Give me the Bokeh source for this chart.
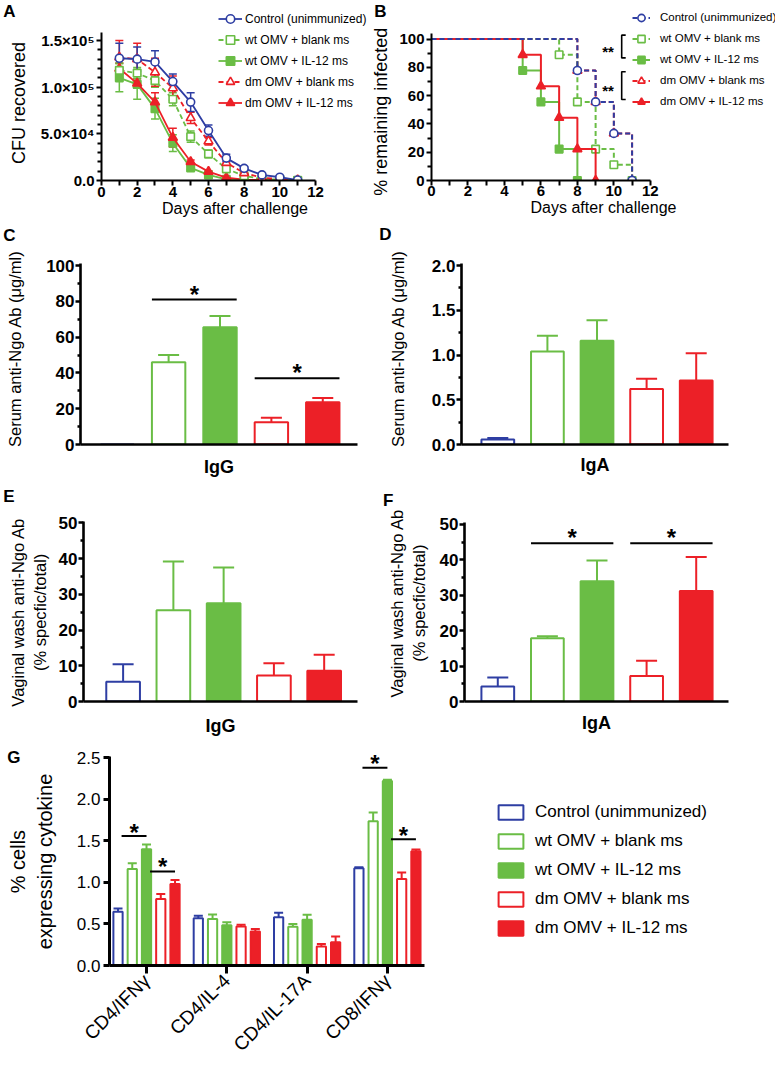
import math
from bokeh.plotting import figure
from bokeh.models import (Range1d, FixedTicker, Whisker, TeeHead, ColumnDataSource,
                          Legend, LegendItem, LinearAxis)
from bokeh.layouts import column, row
from bokeh.core.properties import value
from bokeh.embed import file_html
from bokeh.resources import INLINE

FONT = "Liberation Sans"
BLUE = "#2e3ea3"
GREEN = "#6abd45"
RED = "#ec2027"
NB = "\u00a0"

# ---------------- data ----------------
groups = ["Control (unimmunized)", "wt OMV + blank ms", "wt OMV + IL-12 ms",
          "dm OMV + blank ms", "dm OMV + IL-12 ms"]
group_colors = [BLUE, GREEN, GREEN, RED, RED]
group_filled = [False, False, True, False, True]
group_marker = ["circle", "square", "square", "triangle", "triangle"]
dash_A = ["solid", "5 3", "solid", "5 3", "solid"]
dash_B = ["5 3", "5 3", "solid", "5 3", "solid"]

# Panel A: CFU recovered (mean, SEM) by day
days = [1, 2, 3, 4, 5, 6, 7, 8, 9, 10, 11]
cfu_control = [131000, 130000, 127000, 106000, 84000, 53500, 24000, 13000, 6000, 3500, 500]
cfu_control_sem = [16000, 13000, 12000, 8000, 10000, 6000, 4000, 2000, 1500, 1000, 500]
cfu_wt_blank = [118000, 115000, 107000, 87000, 47000, 28500, 12500, 5000, 1500, 1000, 300]
cfu_wt_blank_sem = [8000, 6000, 7000, 7000, 6000, 4000, 3000, 1500, 1000, 500, 0]
cfu_wt_il12 = [110000, 103000, 77000, 40000, 13500, 6000, 1200, 700, 400, 300, 0]
cfu_wt_il12_sem = [15000, 16000, 11000, 9000, 2000, 1000, 500, 300, 0, 0, 0]
cfu_dm_blank = [132000, 130000, 116000, 99000, 67000, 42000, 19000, 8000, 3000, 1500, 300]
cfu_dm_blank_sem = [18000, 17000, 15000, 13000, 6000, 4000, 3000, 2000, 1000, 500, 0]
cfu_dm_il12 = [120000, 104000, 84000, 46000, 20000, 9500, 3000, 1000, 500, 300, 0]
cfu_dm_il12_sem = [6000, 5000, 10000, 10000, 2000, 1000, 500, 300, 0, 0, 0]

# Panel B: % remaining infected (Kaplan-Meier steps)
km_control_days = [0, 8, 9, 10, 11]
km_control_pct = [100, 77.8, 55.6, 33.3, 0]
km_wt_blank_days = [0, 7, 8, 9, 10, 11]
km_wt_blank_pct = [100, 88.9, 55.6, 22.2, 11.1, 0]
km_wt_il12_days = [0, 5, 6, 7, 8]
km_wt_il12_pct = [100, 77.8, 55.6, 22.2, 0]
km_dm_blank_days = [0, 8, 9, 10, 11]
km_dm_blank_pct = [100, 77.8, 55.6, 33.3, 0]
km_dm_il12_days = [0, 5, 6, 7, 8, 9]
km_dm_il12_pct = [100, 88.9, 66.7, 44.4, 22.2, 0]

# Panels C-F: antibody (mean, SEM) per group
serum_igg = [0, 46, 65.5, 12.4, 23.6]
serum_igg_sem = [0, 4, 6.3, 2.5, 2.4]
serum_iga = [0.056, 1.04, 1.16, 0.62, 0.715]
serum_iga_sem = [0.018, 0.175, 0.227, 0.115, 0.305]
vag_igg = [5.5, 25.5, 27.5, 7.3, 8.6]
vag_igg_sem = [4.9, 13.7, 10.0, 3.4, 4.5]
vag_iga = [4.25, 17.9, 34.0, 7.2, 31.2]
vag_iga_sem = [2.55, 0.5, 5.8, 4.3, 9.6]

# Panel G: % cells expressing cytokine
cytokines = ["CD4/IFNγ", "CD4/IL-4", "CD4/IL-17A", "CD8/IFNγ"]
cyt_control = [0.647, 0.57, 0.58, 1.17]
cyt_control_sem = [0.04, 0.03, 0.055, 0.012]
cyt_wt_blank = [1.16, 0.56, 0.465, 1.735]
cyt_wt_blank_sem = [0.07, 0.055, 0.035, 0.105]
cyt_wt_il12 = [1.40, 0.485, 0.55, 2.22]
cyt_wt_il12_sem = [0.055, 0.035, 0.06, 0.015]
cyt_dm_blank = [0.80, 0.47, 0.23, 1.04]
cyt_dm_blank_sem = [0.06, 0.02, 0.03, 0.08]
cyt_dm_il12 = [0.98, 0.41, 0.28, 1.376]
cyt_dm_il12_sem = [0.05, 0.03, 0.07, 0.02]

# significance annotations: (first bar, second bar, line height, star height)
sig_C = [(1, 2, 81, 88), (3, 4, 37, 44)]
sig_F = [(1, 2, 44.7, 48.3), (3, 4, 44.7, 48.3)]
sig_G = [(0, 1, 2, 1.557, 1.68), (0, 3, 4, 1.13, 1.27), (3, 1, 2, 2.38, 2.51), (3, 3, 4, 1.52, 1.65)]


# ---------------- helpers ----------------
def make_fig(w, h, xr, yr, bl, br, bt, bb):
    p = figure(width=w, height=h, x_range=Range1d(*xr), y_range=Range1d(*yr),
               output_backend="svg", toolbar_location=None,
               min_border_left=bl, min_border_right=br, min_border_top=bt, min_border_bottom=bb)
    p.grid.visible = False
    p.outline_line_color = None
    p.background_fill_color = "white"
    p.border_fill_color = "white"
    return p


def style_axis(ax, ticks, minor, overrides, tsize, tbold, lw, tout, mout, lstand,
               label, lsize, lbold, lab_stand, bounds=None):
    ax.ticker = FixedTicker(ticks=ticks, minor_ticks=minor)
    if overrides:
        ax.major_label_overrides = overrides
    ax.axis_line_width = lw
    ax.axis_line_color = "black"
    ax.major_tick_line_width = lw
    ax.minor_tick_line_width = lw
    ax.major_tick_in = 0
    ax.minor_tick_in = 0
    ax.major_tick_out = tout
    ax.minor_tick_out = mout
    ax.major_label_text_font = FONT
    ax.major_label_text_font_size = tsize
    ax.major_label_text_font_style = "bold" if tbold else "normal"
    ax.major_label_text_color = "black"
    ax.major_label_standoff = lstand
    if label:
        ax.axis_label = label
        ax.axis_label_text_font = FONT
        ax.axis_label_text_font_size = lsize
        ax.axis_label_text_font_style = "bold" if lbold else "normal"
        ax.axis_label_text_color = "black"
        ax.axis_label_standoff = lab_stand
    if bounds is not None:
        ax.bounds = bounds


def text_axis(p, ytick, text, standoff, size, bold, orientation="horizontal"):
    # a single text drawn as the only tick label of an extra, invisible left axis
    ax = LinearAxis(ticker=FixedTicker(ticks=[ytick], minor_ticks=[]),
                    major_label_overrides={ytick: text},
                    axis_line_color=None, major_tick_line_color=None, minor_tick_line_color=None,
                    major_tick_out=0, major_tick_in=0, minor_tick_out=0, minor_tick_in=0,
                    major_label_standoff=standoff, major_label_text_font=FONT,
                    major_label_text_font_size=size,
                    major_label_text_font_style="bold" if bold else "normal",
                    major_label_text_color="black", major_label_orientation=orientation)
    p.add_layout(ax, "left")


def panel_letter(p, letter, ytick, standoff):
    text_axis(p, ytick, letter, standoff, "17px", True)


def add_whiskers(p, xs, means, errs, color, head, lw, both=False):
    bx, lo, hi = [], [], []
    for x, m, e in zip(xs, means, errs):
        if e > 0:
            bx.append(x)
            lo.append(m - e if both else m)
            hi.append(m + e)
    src = ColumnDataSource(dict(x=bx, lower=lo, upper=hi))
    w = Whisker(source=src, base="x", lower="lower", upper="upper", dimension="height",
                line_color=color, line_width=lw,
                upper_head=TeeHead(size=head, line_color=color, line_width=lw),
                lower_head=TeeHead(size=head, line_color=color, line_width=lw) if both else None)
    p.add_layout(w)


def add_stars(p, xs, ys, size="24px", yoff=7):
    src = ColumnDataSource(dict(x=xs, y=ys, t=["*"] * len(xs)))
    p.text(x="x", y="y", text="t", source=src, text_font=value(FONT), text_font_style="bold",
           text_font_size=size, text_align="center", text_baseline="middle",
           text_color="black", y_offset=yoff)


# ---------------- Panel A ----------------
pA = make_fig(368, 222, (0, 14.973), (0, 192857), 91, 0, 0, 42)
style_axis(pA.xaxis[0], [0, 2, 4, 6, 8, 10, 12], [1, 3, 5, 7, 9, 11], None, "15px", True, 2,
           5, 5, 1, "Days after challenge", "16px", False, 0, bounds=(0, 12))
style_axis(pA.yaxis[0], [0, 50000, 100000, 150000],
           [10000, 20000, 30000, 40000, 60000, 70000, 80000, 90000, 110000, 120000, 130000, 140000],
           {0: "0.0", 50000: "5.0×10⁴", 100000: "1.0×10⁵", 150000: "1.5×10⁵"},
           "15px", True, 2, 5, 4, 2, "CFU recovered" + NB * 5, "18px", False, 9, bounds=(0, 159000))

a_means = [cfu_control, cfu_wt_blank, cfu_wt_il12, cfu_dm_blank, cfu_dm_il12]
a_sems = [cfu_control_sem, cfu_wt_blank_sem, cfu_wt_il12_sem, cfu_dm_blank_sem, cfu_dm_il12_sem]
a_sizes = {"circle": 8, "square": 7.5, "triangle": 9}
a_line, a_scat = {}, {}
for i in [2, 4, 1, 3, 0]:
    c = group_colors[i]
    add_whiskers(pA, days, a_means[i], a_sems[i], c, 8, 1.5, both=True)
    a_line[i] = pA.line(days, a_means[i], line_color=c, line_width=1.8, line_dash=dash_A[i])
    a_scat[i] = pA.scatter(days, a_means[i], marker=group_marker[i], size=a_sizes[group_marker[i]],
                           line_color=c, line_width=1.6,
                           fill_color=c if group_filled[i] else "white")
legA = Legend(items=[LegendItem(label=groups[i], renderers=[a_line[i], a_scat[i]]) for i in range(5)],
              location=(117, 67), orientation="vertical", padding=0, spacing=0, margin=0,
              glyph_width=24, glyph_height=21, label_height=21, label_standoff=3,
              border_line_color=None, background_fill_alpha=0,
              label_text_font=FONT, label_text_font_size="12px", label_text_color="black")
pA.add_layout(legA)
panel_letter(pA, "A", 181000, -10)

# ---------------- Panel B ----------------
pB = make_fig(407, 222, (0, 18.865), (0, 127.3), 58, 0, 0, 40)
style_axis(pB.xaxis[0], [0, 2, 4, 6, 8, 10, 12], [1, 3, 5, 7, 9, 11], None, "15px", True, 2,
           5, 5, 0, "Days after challenge", "16px", False, 0, bounds=(0, 12))
style_axis(pB.yaxis[0], [0, 20, 40, 60, 80, 100], [10, 30, 50, 70, 90], None,
           "15px", True, 2, 5, 4, 2, "", "18px", False, 5, bounds=(0, 104))
# y-axis title, centred on the 0-100 part of the axis like the reference
text_axis(pB, 48.6, "% remaining infected", 5, "18px", False, "parallel")

km_days = [km_control_days, km_wt_blank_days, km_wt_il12_days, km_dm_blank_days, km_dm_il12_days]
km_pct = [km_control_pct, km_wt_blank_pct, km_wt_il12_pct, km_dm_blank_pct, km_dm_il12_pct]
b_line, b_scat = {}, {}
for i in [3, 1, 2, 4, 0]:
    c = group_colors[i]
    b_line[i] = pB.step(km_days[i], km_pct[i], mode="after", line_color=c, line_width=2,
                        line_dash=dash_B[i])
    b_scat[i] = pB.scatter(km_days[i][1:], km_pct[i][1:], marker=group_marker[i],
                           size=a_sizes[group_marker[i]], line_color=c, line_width=1.6,
                           fill_color=c if group_filled[i] else "white")
legB = Legend(items=[LegendItem(label=groups[i], renderers=[b_line[i], b_scat[i]]) for i in range(5)],
              location=(201, 68.5), orientation="vertical", padding=0, spacing=0, margin=0,
              glyph_width=18, glyph_height=21, label_height=21, label_standoff=10,
              border_line_color=None, background_fill_alpha=0,
              label_text_font=FONT, label_text_font_size="11.5px", label_text_color="black")
pB.add_layout(legB)
# legend brackets (annotation positions in the legend area)
brk_x = [10.43, 10.65]
brk_y = [(102.8, 86.7), (76.9, 57.3)]
pB.multi_line(xs=[[brk_x[1], brk_x[0], brk_x[0], brk_x[1]] for _ in brk_y],
              ys=[[a, a, b, b] for a, b in brk_y], line_color="black", line_width=1.6)
srcBs = ColumnDataSource(dict(x=[9.68, 9.68], y=[(a + b) / 2 for a, b in brk_y], t=["**", "**"]))
pB.text(x="x", y="y", text="t", source=srcBs, text_font=value(FONT), text_font_style="bold",
        text_font_size="15px", text_align="center", text_baseline="middle", text_color="black",
        y_offset=5)
panel_letter(pB, "B", 119.5, -18)


# ---------------- Panels C-F ----------------
def bar_panel(w, h, xr, yr, bl, br, bt, bb, means, sems, ticks, minor, overrides, ybound,
              ylabel, xlabel, ylab_stand, xlab_stand, width, letter, ltick, lstand, sig=None):
    p = make_fig(w, h, xr, yr, bl, br, bt, bb)
    style_axis(p.xaxis[0], [], [], None, "1px", False, 2.6, 0, 0, 0, xlabel, "18px", True, xlab_stand)
    style_axis(p.yaxis[0], ticks, minor, overrides, "17px", True, 2.6, 5, 3, 1, ylabel,
               "16.5px", False, ylab_stand, bounds=(0, ybound))
    pos = list(range(1, len(groups) + 1))
    for i in range(len(groups)):
        c = group_colors[i]
        p.vbar(x=[pos[i]], top=[means[i]], bottom=0, width=width,
               fill_color=c if group_filled[i] else "white", line_color=c, line_width=2)
        add_whiskers(p, [pos[i]], [means[i]], [sems[i]], c, 21, 2)
    if sig:
        sx, sy = [], []
        for a, b, ly_, sy_ in sig:
            p.line([pos[a] - width / 2, pos[b] + width / 2], [ly_, ly_], line_color="black", line_width=2)
            sx.append((pos[a] + pos[b]) / 2)
            sy.append(sy_)
        add_stars(p, sx, sy)
    panel_letter(p, letter, ltick, lstand)
    return p


pC = bar_panel(368, 260, (0.285, 5.676), (0, 122.4), 78, 11, 2, 34, serum_igg, serum_igg_sem,
               [0, 20, 40, 60, 80, 100], [10, 30, 50, 70, 90], None, 101,
               "Serum anti-Ngo Ab (μg/ml)" + NB * 6, "IgG", 19, 12, 0.65, "C", 117, -12, sig_C)
pD = bar_panel(407, 260, (0.268, 5.651), (0, 2.447), 93, 47, 3, 38, serum_iga, serum_iga_sem,
               [0, 0.5, 1, 1.5, 2], [0.25, 0.75, 1.25, 1.75],
               {0: "0.0", 0.5: "0.5", 1: "1.0", 1.5: "1.5", 2: "2.0"}, 2.02,
               "Serum anti-Ngo Ab (μg/ml)" + NB * 6, "IgA", 22, 10, 0.66, "D", 2.35, -6)
pE = bar_panel(368, 262, (0.212, 5.663), (0, 60.16), 79, 11, 4, 39, vag_igg, vag_igg_sem,
               [0, 10, 20, 30, 40, 50], [5, 15, 25, 35, 45], None, 50.5,
               "Vaginal wash anti-Ngo Ab" + NB * 8 + "\n(% specfic/total)" + NB * 8, "IgG", 7, 14,
               0.67, "E", 57.4, -9)
pF = bar_panel(407, 262, (0.329, 5.651), (0, 60.73), 96, 47, 4, 43, vag_iga, vag_iga_sem,
               [0, 10, 20, 30, 40, 50], [5, 15, 25, 35, 45], None, 50.5,
               "Vaginal wash anti-Ngo Ab" + NB * 4 + "\n(% specfic/total)" + NB * 4, "IgA", 9, 11,
               0.66, "F", 56.8, -9, sig_F)

# ---------------- Panel G ----------------
pG = make_fig(775, 321, (0.539, 8.833), (0, 2.635), 109, 0, 2, 98)
cat_pos = list(range(1, len(cytokines) + 1))
style_axis(pG.xaxis[0], cat_pos, [], {p_: c_ for p_, c_ in zip(cat_pos, cytokines)},
           "19px", False, 3, 8, 0, 4, "", "1px", False, 0, bounds=(0.539, 4.462))
pG.xaxis[0].major_label_orientation = math.pi / 4
style_axis(pG.yaxis[0], [0, 0.5, 1, 1.5, 2, 2.5], [],
           {0: "0.0", 0.5: "0.5", 1: "1.0", 1.5: "1.5", 2: "2.0", 2.5: "2.5"},
           "17px", False, 3, 6, 0, 3, "% cells" + NB * 2 + "\nexpressing cytokine" + NB * 2, "20px",
           False, 18, bounds=(0, 2.52))
g_means = [cyt_control, cyt_wt_blank, cyt_wt_il12, cyt_dm_blank, cyt_dm_il12]
g_sems = [cyt_control_sem, cyt_wt_blank_sem, cyt_wt_il12_sem, cyt_dm_blank_sem, cyt_dm_il12_sem]
step = 0.1775
bw = 0.115
g_rend = []
for i in range(5):
    c = group_colors[i]
    xs = [cp + (i - 2) * step for cp in cat_pos]
    r = pG.vbar(x=xs, top=g_means[i], bottom=0, width=bw,
                fill_color=c if group_filled[i] else "white", line_color=c, line_width=2)
    g_rend.append(r)
    add_whiskers(pG, xs, g_means[i], g_sems[i], c, 9, 2)
gsx, gsy = [], []
for cidx, a, b, ly_, sy_ in sig_G:
    xa = cat_pos[cidx] + (a - 2) * step
    xb = cat_pos[cidx] + (b - 2) * step
    pG.line([xa - 0.75 * step, xb], [ly_, ly_], line_color="black", line_width=2)
    gsx.append((xa - 0.75 * step + xb) / 2)
    gsy.append(sy_)
add_stars(pG, gsx, gsy)
legG = Legend(items=[LegendItem(label=groups[i], renderers=[g_rend[i]]) for i in range(5)],
              location=(386, 27), orientation="vertical", padding=0, spacing=9, margin=0,
              glyph_width=31, glyph_height=18, label_height=20, label_standoff=9,
              border_line_color=None, background_fill_alpha=0,
              label_text_font=FONT, label_text_font_size="17px", label_text_color="black")
pG.add_layout(legG)
panel_letter(pG, "G", 2.5, -16)

layout = column(row(pA, pB), row(pC, pD), row(pE, pF), pG)
open("out.html", "w").write(file_html(layout, INLINE))
